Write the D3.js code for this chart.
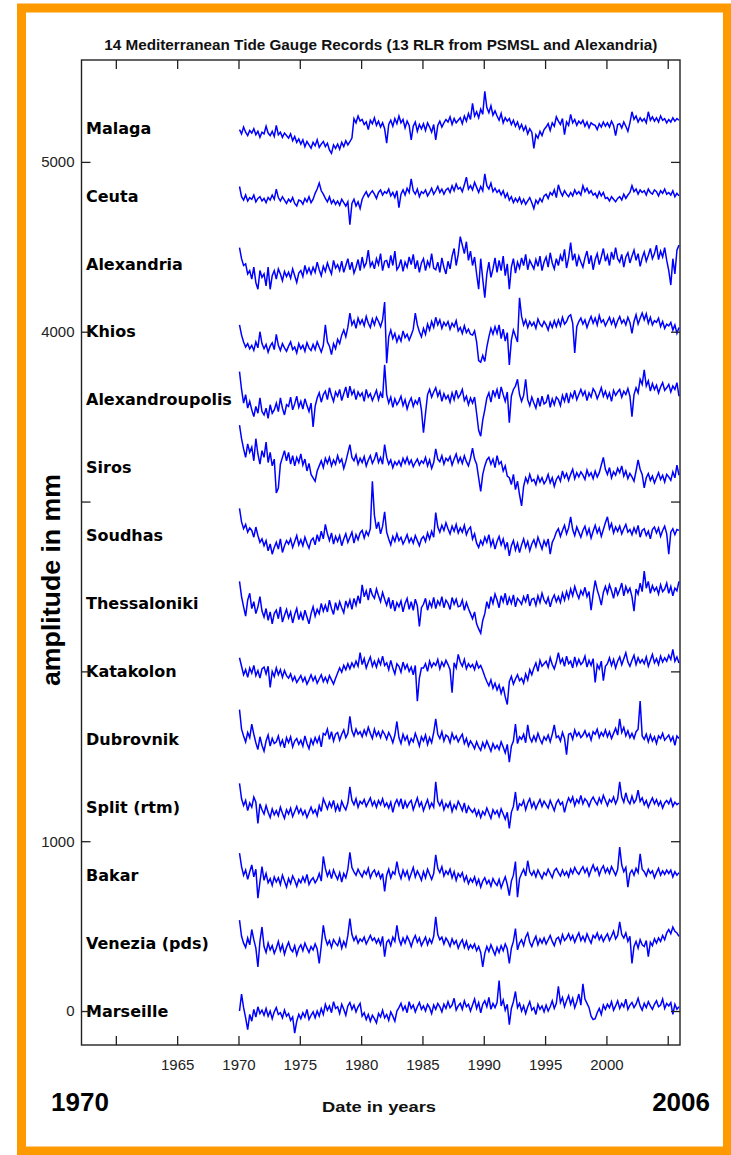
<!DOCTYPE html>
<html>
<head>
<meta charset="utf-8">
<script src="https://cdn.jsdelivr.net/npm/d3@7"></script>
<style>
  body { margin: 0; background: #fff; }
  svg { display: block; }
</style>
</head>
<body>
<svg id="chart" width="731" height="1155"></svg>
<script>
// Station names, top to bottom, and the level (mm) each record is stacked at
const stations = ["Malaga", "Ceuta", "Alexandria", "Khios", "Alexandroupolis", "Siros", "Soudhas",
  "Thessaloniki", "Katakolon", "Dubrovnik", "Split (rtm)", "Bakar", "Venezia (pds)", "Marseille"];
const stackLevels = [5200, 4800, 4400, 4000, 3600, 3200, 2800, 2400, 2000, 1600, 1200, 800, 400, 0];

// Record span and sampling (six samples per year)
const firstYear = 1970;
const samplesPerYear = 6;

// Sea-level anomalies (mm), two-monthly, 1970-2005, one row per year
const malaga = [
  -10,-35,5,-25,-45,-15, -30,-5,-40,-20,-55,-25, -35,10,-30,-45,-20,-50, 15,-40,-25,-55,-30,-45,
  -60,-35,-75,-50,-85,-65, -95,-70,-110,-80,-100,-120, -85,-105,-70,-115,-95,-80, -110,-90,-130,-150,-100,-120,
  -95,-125,-85,-110,-75,-100, -80,-60,55,30,70,40, 50,20,35,-10,45,25, 60,15,40,5,30,-5,
  -90,20,45,10,55,25, 70,30,50,0,40,15, -70,10,35,-20,20,-5, 25,-15,30,5,-25,20,
  -70,15,40,5,30,50, 35,65,20,55,30,45, 60,25,70,40,85,50, 145,70,95,60,110,80,
  215,120,90,130,75,100, 70,45,85,30,60,40, 55,20,45,10,35,-5, 20,-15,10,-35,-5,-25,
  -120,-40,-60,-20,-45,-10, 5,25,-15,30,10,65, 40,20,55,-40,35,15, 80,30,50,15,40,25,
  45,10,35,0,30,20, 15,-10,25,5,35,10, 30,5,40,15,-45,20, 25,0,35,10,-20,30,
  95,50,70,35,60,40, 55,30,95,45,65,40, 60,35,70,45,55,30, 50,35,60,40,55,45];
const ceuta = [
  55,-5,-25,5,-30,-10, -20,5,-35,-15,-5,-30, -15,-40,-10,-25,5,-20, 40,-10,-30,-5,-25,-45,
  -20,-35,-10,-45,-60,-25, -30,-50,-15,-35,-5,-40, -20,15,40,75,30,10, -15,-35,-5,-45,-25,-50,
  -30,-55,-20,-40,-60,-35, -170,-45,-20,-60,-35,-75, -20,5,25,-5,15,30, 10,-15,20,35,5,25,
  15,40,0,20,-10,30, -70,10,35,5,45,20, 100,30,10,40,-5,25, 15,35,0,20,45,10,
  30,55,20,40,10,35, 45,20,60,30,70,40, 50,25,65,110,40,60, 35,80,50,20,55,30,
  130,60,40,75,25,45, 20,35,5,30,-10,15, -25,-5,-40,-15,-35,-10, -45,-20,-50,-30,-10,-40,
  -75,-25,-45,-15,-35,0, 10,-15,20,5,35,-10, 65,25,0,30,10,-5, 20,0,35,10,25,5,
  60,25,45,15,30,5, 15,-10,25,0,20,-15, -10,-30,-5,-20,-35,-15, -5,-25,10,-15,5,20,
  60,25,40,10,35,20, 30,5,40,20,10,35, 25,0,30,15,40,10, 20,5,30,-5,15,0];
const alexandria = [
  95,30,-10,0,-60,-40, -90,-20,-110,-150,-40,-80, -60,-130,-20,-150,-70,-40, -90,-30,-60,-100,-45,-75,
  -50,-85,-30,-70,-110,-55, -40,-75,-10,-55,-25,-60, -20,-50,10,-35,-70,-15, -45,5,-30,-60,20,-25,
  -5,-40,15,-50,-10,30, -35,10,-55,-20,25,-40, 40,-20,5,80,-15,10, -30,30,-5,60,-40,15,
  20,-25,50,-10,75,-35, -15,25,-45,10,-20,40, -5,55,-30,20,-50,5, 30,-40,15,-15,60,-25,
  -35,10,-50,35,-20,-60, 15,-30,45,90,-10,55, 160,110,60,130,20,75, -10,40,-60,-150,30,-90,
  -200,-60,10,-80,-30,35, -50,20,-40,45,-70,0, -150,-20,30,-55,10,-25, 35,-10,55,-35,20,-5,
  -30,25,-15,45,-40,10, 40,-20,65,5,-30,30, -10,50,15,85,-25,35, 125,20,60,-15,45,10,
  -20,35,75,0,50,-35, 25,60,-5,40,90,15, 50,-10,70,25,95,30, 10,55,-20,40,65,5,
  45,80,20,60,-15,35, 70,15,50,90,30,60, 110,25,75,40,95,20, -40,-125,30,-60,80,110];
const khios = [
  40,-20,-60,-90,-70,-100, -80,-110,-60,-95,0,-70, -100,-75,-120,-85,-65,-105, -15,-80,-110,-70,-95,-115,
  -85,-60,-105,-90,-125,-70, -100,-80,-115,-65,-95,-110, -75,-105,-60,-90,-120,-80, 40,-60,-85,-135,-70,-100,
  -45,-70,-20,10,-30,25, 110,40,65,20,80,45, 70,35,90,50,25,75, 40,85,60,30,70,175,
  -185,-30,10,-40,-10,-60, -25,-55,5,-35,-15,-50, -20,15,110,40,0,-30, 20,-15,45,10,60,25,
  85,40,70,20,55,35, 60,15,50,30,65,5, 25,-10,35,-5,15,-15, -20,5,-60,-170,-180,-140,
  -175,-90,-30,20,-15,30, -10,40,-40,15,-55,-5, -195,-50,10,-25,-60,200, 90,40,70,25,60,35,
  55,20,75,45,30,60, 40,10,55,25,65,30, 70,35,85,45,60,90, 100,50,-125,30,60,80,
  45,70,25,60,90,50, 80,40,95,55,70,35, 60,85,45,75,30,65, 90,50,70,40,85,55,
  -10,60,100,45,80,110, 70,105,50,85,40,65, 55,80,30,60,20,45, 35,55,10,40,-10,25];
const alexandroupolis = [
  165,60,-20,30,-50,-10, -60,-100,-40,-80,10,-70, -90,-50,-110,-30,-80,-60, -20,-70,10,-50,-90,-30,
  -40,15,-60,-25,20,-45, -10,-55,5,-35,-70,-20, -160,-40,10,40,-15,30, 50,0,70,25,-10,45,
  20,60,-5,35,75,10, 80,30,55,0,45,20, 40,-10,60,15,35,-5, 25,55,0,40,10,205,
  30,-20,15,-45,5,-30, -10,20,-35,0,-55,-15, 10,-40,-5,-25,15,-60, -195,-80,30,60,15,45,
  70,20,50,-10,35,5, 25,-15,40,0,55,10, 30,60,-5,20,-30,10, -20,15,-80,-180,-215,-120,
  -60,10,40,-15,55,20, 60,5,75,30,-10,45, -135,20,60,80,120,30, -10,25,120,0,-35,15,
  -20,-50,10,-40,20,-25, -15,30,-45,5,-30,15, 0,-35,25,-10,40,-20, 35,10,55,0,30,60,
  25,50,-5,40,15,65, 45,5,35,70,20,50, 10,40,-10,55,25,45, 60,15,50,30,65,20,
  -100,30,70,40,120,90, 175,80,110,50,95,60, 85,40,75,100,55,70, 90,45,80,60,100,20];
const siros = [
  250,170,110,60,140,90, 120,40,170,80,20,100, 60,150,30,90,10,50, -150,-120,20,60,100,40,
  90,20,70,10,60,30, 80,15,50,-20,25,-40, -60,-80,-20,10,40,0, 55,25,60,10,45,20,
  70,30,50,-5,35,85, 135,60,40,75,20,55, 30,65,10,45,70,25, 50,90,30,60,20,135,
  60,20,45,0,35,15, 40,10,55,25,60,20, 45,5,30,50,15,40, 25,60,10,45,-5,30,
  110,50,35,70,20,55, 40,65,15,50,80,30, 60,25,70,35,10,55, 115,50,20,-60,-140,-40,
  10,45,60,20,50,0, 70,20,35,-20,10,-50, -60,-100,-40,-130,-80,-160, -225,-110,-60,-90,-40,-80,
  -70,-100,-50,-85,-60,-95, -75,-40,-90,-60,-110,-70, -50,-80,-20,-60,-35,-75, -40,-10,-65,-30,-55,-25,
  -45,-70,-15,-50,-30,-65, -20,-55,-30,15,60,-10, -40,0,-60,-25,-45,-5, -30,10,-50,-20,-65,-35,
  -55,-80,-20,45,-10,-40, -120,-60,-35,-75,-50,-90, -60,-30,-70,-45,-85,-40, -55,-75,-25,-60,15,-45];
const soudhas = [
  160,80,40,65,20,45, 30,-10,50,0,-40,-20, -60,-30,-90,-50,-110,-70, -40,-80,-20,-100,-60,-30,
  -50,-20,-70,-35,0,-55, -25,-60,-10,-45,-75,-30, -15,-55,5,-35,25,-20, 65,10,-30,15,-50,-5,
  -35,0,-60,-20,10,-40, -10,20,-45,5,-25,15, 30,-15,25,0,40,320, 120,40,80,10,55,140,
  20,-20,-55,-5,-35,10, -30,-10,-50,-25,5,-40, -15,-45,0,-30,-60,-20, -5,-35,15,-20,25,-10,
  135,50,20,60,30,75, 40,10,55,25,65,15, 45,20,60,5,35,50, -20,10,-45,-70,-30,-55,
  -10,-40,5,-60,-25,-80, -35,-5,-55,-20,-75,-40, -120,-60,-30,-85,-45,-100, -55,-20,-70,-35,-90,-50,
  -25,-65,-10,-45,-80,-30, -60,-20,-110,-40,-15,20, 40,-5,30,60,10,45, 110,35,0,50,20,-10,
  30,55,5,40,-15,25, 60,15,45,-5,35,75, 110,40,70,15,50,25, 55,10,40,65,20,35,
  5,45,15,60,-10,30, 40,0,25,-20,35,50, 15,45,-5,30,55,10, -110,20,40,5,35,30];
const thessaloniki = [
  130,40,-20,-75,20,60, -30,10,-60,-20,40,-45, -80,-30,-100,-50,-120,-60, -40,-90,-20,-110,-70,-35,
  -85,-50,-115,-65,-30,-95, -55,-100,-40,-80,-120,-60, -20,-75,-35,-60,0,-45, -10,-50,20,-30,-65,5,
  -40,10,-25,-55,15,-20, 20,-35,30,-10,45,0, 110,40,75,20,90,50, 30,85,45,10,65,25,
  -10,35,-30,20,-45,5, -20,15,-50,0,30,-35, 10,-40,25,-15,-135,-25, -5,30,-40,10,-20,35,
  -30,15,-10,40,-25,20, 0,-35,35,-5,25,-20, -15,20,-40,5,-30,-60, -90,-50,-120,-150,-175,-100,
  -60,10,-30,40,0,55, 20,-25,45,10,60,-10, 35,0,50,-20,30,15, -5,40,10,55,-15,25,
  30,-10,45,5,60,20, 0,35,-20,25,50,10, 40,5,60,20,70,30, 85,45,100,60,30,75,
  50,95,40,70,-40,55, 135,80,40,-10,65,100, 60,110,75,30,95,50, 80,120,45,100,65,90,
  40,-45,85,55,120,70, 190,90,130,60,105,75, 95,55,110,70,85,120, 60,100,45,90,75,130];
const katakolon = [
  80,30,-20,10,-35,20, -10,35,-25,5,-40,15, 25,-15,30,-95,0,-30, 20,-20,10,-35,5,-25,
  -40,-15,-55,-30,-65,-45, -25,-60,-35,-75,-50,-20, -55,-30,-70,-45,-20,-60, -35,-65,-25,-50,-75,-40,
  -10,20,-5,35,10,45, 15,50,25,60,30,110, 40,75,20,55,85,30, 60,25,70,40,90,35,
  50,10,65,20,-15,45, 30,-5,55,15,40,0, 25,-20,35,-175,-40,20, 20,45,0,60,25,50,
  35,70,15,55,30,65, 40,10,-125,50,20,100, 55,30,70,15,45,25, 40,10,55,20,35,5,
  -30,-60,-85,-50,-100,-70, -110,-80,-130,-90,-150,-195, -60,-30,-75,-45,-20,-55, -40,-70,-15,-50,10,-20,
  20,50,0,65,30,45, 60,25,80,40,15,55, 110,50,75,30,90,45, 60,20,85,35,70,40,
  55,90,25,65,35,75, -65,40,15,60,-55,30, 45,80,35,70,20,60, 85,40,75,110,55,30,
  65,95,40,80,50,70, 45,85,30,65,100,50, 75,40,90,55,80,60, 95,70,130,60,85,50];
const dubrovnik = [
  175,60,20,-15,40,10, 90,30,-20,-60,15,-35, -70,-10,25,-40,5,-25, -15,20,-35,-5,-50,10,
  -20,15,-45,-10,5,-30, -5,-40,20,-25,-55,0, -30,10,-20,15,-45,35, 25,60,0,45,-10,30,
  40,-5,30,55,10,35, 135,50,20,60,30,45, 15,55,25,70,35,5, 60,20,45,10,50,30,
  0,40,15,-20,25,105, 10,-25,30,-5,20,-30, 5,-15,35,0,-40,15, -10,25,-30,10,-20,40,
  120,30,5,45,-10,25, 15,-20,35,0,20,-15, 10,30,-25,5,-40,-10, -30,-55,-15,-45,-65,-20,
  -50,-10,-40,-70,-25,-55, -35,-60,-15,-45,-80,-30, -135,-40,-10,90,-25,15, 0,30,-20,85,10,-15,
  20,-10,35,0,-25,15, -5,25,-15,30,85,10, 20,-10,40,5,-90,30, 35,0,55,20,40,10,
  25,50,15,35,-5,45, 30,60,10,40,20,55, 15,45,5,35,65,25, 120,40,70,20,50,10,
  35,5,45,60,225,20, 0,30,-15,25,-10,15, -25,20,5,35,-5,10, 25,-10,15,-35,20,5];
const split = [
  140,50,10,40,-20,25, 0,60,30,-95,20,-15, -40,10,-30,-60,-10,-45, -20,-50,0,-35,-65,-15,
  -40,-5,-55,-25,5,-35, -10,-45,-20,-60,-30,0, -35,-15,-50,10,-25,50, 20,-10,30,0,40,-20,
  15,-25,35,5,-15,25, 120,40,15,50,0,35, 20,45,5,30,55,10, 35,0,40,15,50,5,
  25,-5,30,-30,20,45, 10,50,-10,35,0,25, 40,-15,20,55,5,30, -20,15,45,-5,25,0,
  150,35,10,40,-15,20, 0,30,-25,15,-10,35, 10,-20,25,-35,5,-15, -30,-10,-50,-20,-60,-25,
  -45,-5,-35,-65,-15,-40, -20,-55,-10,-40,-70,-30, -125,-30,5,90,-20,20, 10,40,-15,25,50,0,
  30,-10,20,45,5,35, 15,-5,40,10,-20,25, 45,15,30,-30,20,55, 30,60,10,45,25,70,
  20,50,35,5,40,60, 35,15,55,25,70,40, 10,45,30,60,20,50, 150,60,30,85,40,20,
  65,25,45,100,35,55, 15,40,0,30,55,20, 45,10,35,-5,25,40, 20,50,5,30,15,25];
const bakar = [
  130,50,0,30,-25,20, 60,-10,35,-135,-40,50, -30,10,-45,-20,-60,-10, -40,-15,-55,0,-35,-70,
  -20,-50,-5,-30,-65,-25, -45,-10,-40,5,-55,-30, -15,-45,-25,10,-35,110, 40,-5,25,-20,30,0,
  -25,15,-40,10,-15,35, 135,45,20,0,35,10, -10,25,5,40,-15,15, 30,-5,20,-20,10,-95,
  0,35,-15,20,5,80, 15,-20,30,-5,25,-25, 10,45,-10,25,0,-30, 20,-15,35,5,-25,10,
  120,40,15,50,-5,25, 5,35,-15,20,-30,10, -10,15,-35,-5,-50,-20, -40,-10,-55,-25,-70,-35,
  -15,-50,-30,-65,-20,-45, -60,-25,-75,-40,-10,-55, -120,-35,0,80,-130,-20, 10,35,-5,85,20,0,
  25,-10,30,5,-20,15, 0,35,10,-15,25,40, 15,-5,30,0,20,-10, 35,10,45,20,5,30,
  50,15,40,-5,30,60, 25,45,0,35,55,15, 40,10,50,25,0,35, 165,60,20,45,-70,10,
  30,0,40,15,125,35, 20,-5,35,10,25,-15, 15,40,0,25,5,30, 10,30,-10,20,0,15];
const venezia = [
  135,40,0,-25,30,-10, 80,20,-30,-140,10,95, -20,-55,0,-40,-15,-60, -30,10,-45,-10,-65,-25,
  5,-35,-50,-15,-70,-30, -10,-45,0,-30,-55,-20, -40,-5,-35,-120,-15,105, 30,-10,15,-25,20,0,
  -15,25,-30,10,-20,45, 145,50,15,40,0,25, 10,35,-5,20,45,15, 30,0,25,-10,40,-80,
  5,20,-15,35,10,105, 25,-10,30,0,40,15, -20,20,45,5,30,-15, 10,35,-10,25,0,40,
  155,50,20,35,-5,30, 10,-20,25,-5,15,-30, 0,20,-25,10,-35,-10, -30,-5,-45,-20,-55,-140,
  -60,-20,-50,-10,-40,-70, -25,-55,-15,-45,-5,-35, -120,-30,10,85,-40,0, 20,-15,35,60,5,-20,
  15,40,-10,25,0,30, -5,20,45,10,-15,25, 35,0,50,15,30,55, 20,45,5,35,60,15,
  40,10,55,25,0,45, 30,60,20,45,10,35, 55,15,40,70,25,45, 125,50,30,60,10,40,
  -120,-20,10,-30,20,-10, -20,15,-80,5,-15,25, 0,30,10,45,20,60, 80,55,95,70,60,40];
const marseille = [
  0,100,20,-40,-110,-20, -60,10,-35,25,-15,5, -25,15,-30,0,-45,-5, 20,-20,-10,-40,5,-30,
  -15,-55,-35,-130,-60,-20, -45,-10,-35,10,-50,-25, -5,-40,0,-30,15,-20, 40,5,30,-10,55,15,
  25,-15,40,10,-25,30, 50,10,35,-5,25,45, -30,-10,-50,-20,-60,-25, -45,-70,-15,-35,5,-40,
  -20,-55,-5,-30,-60,0, 20,45,5,30,-10,55, 15,35,-5,25,50,10, 30,0,40,20,-15,35,
  10,45,25,-5,40,15, 55,20,35,75,5,30, 45,10,60,25,40,0, 35,70,15,50,-10,40,
  60,25,80,10,45,20, 50,180,30,65,5,40, -80,15,55,115,20,45, 0,30,-15,25,55,5,
  20,-20,40,10,30,-5, 35,0,25,60,15,45, 145,50,80,25,60,90, 40,75,20,55,100,35,
  160,70,45,20,-30,-50, -45,-10,15,-20,35,10, 40,20,55,5,30,60, 15,45,25,70,10,35,
  50,20,40,75,30,5, 45,20,55,30,10,40, 60,25,35,70,15,45, 30,50,-20,40,10,25];

const anomalies = [malaga, ceuta, alexandria, khios, alexandroupolis, siros, soudhas,
  thessaloniki, katakolon, dubrovnik, split, bakar, venezia, marseille];

// Axis ticks and their labels
const yTickValues = [0, 1000, 2000, 3000, 4000, 5000];
const yTickLabels = ["0", "1000", "", "", "4000", "5000"];
const xTickValues = [1960, 1965, 1970, 1975, 1980, 1985, 1990, 1995, 2000, 2005];
const xTickLabels = ["", "1965", "1970", "1975", "1980", "1985", "1990", "1995", "2000", ""];

const titleText = "14 Mediterranean Tide Gauge Records (13 RLR from PSMSL and Alexandria)";
const xAxisTitle = "Date in years";
const yAxisTitle = "amplitude in mm";
const spanStart = "1970";
const spanEnd = "2006";

// ---- layout ----
const svg = d3.select("#chart");
const plot = { left: 81.5, right: 680, top: 60, bottom: 1045 };

const x = d3.scaleLinear().domain([1957.2, 2006]).range([plot.left, plot.right]);
const y = d3.scaleLinear().domain([-200, 5600]).range([plot.bottom, plot.top]);

// orange frame
svg.append("rect")
  .attr("x", 21.5).attr("y", 8)
  .attr("width", 706).attr("height", 1143)
  .attr("fill", "#fff")
  .attr("stroke", "#ff9900").attr("stroke-width", 9);

// title
svg.append("text")
  .attr("x", (plot.left + plot.right) / 2).attr("y", 50)
  .attr("text-anchor", "middle")
  .attr("font-family", "'Liberation Sans', Arial, sans-serif")
  .attr("font-weight", "bold").attr("font-size", 14)
  .attr("textLength", 553).attr("lengthAdjust", "spacingAndGlyphs")
  .attr("fill", "#111")
  .text(titleText);

svg.append("defs").append("clipPath").attr("id", "plotClip")
  .append("rect")
  .attr("x", plot.left).attr("y", plot.top)
  .attr("width", plot.right - plot.left).attr("height", plot.bottom - plot.top);

// the tide gauge records
const line = d3.line()
  .x(d => x(d.t))
  .y(d => y(d.v));

const records = anomalies.map((vals, k) => vals.map((a, i) => ({
  t: firstYear + (i + 0.5) / samplesPerYear,
  v: stackLevels[k] + a
})));

svg.append("g").attr("clip-path", "url(#plotClip)")
  .selectAll("path")
  .data(records)
  .join("path")
  .attr("d", line)
  .attr("fill", "none")
  .attr("stroke", "#0000ff")
  .attr("stroke-width", 1.5)
  .attr("stroke-linejoin", "miter");

// station names
svg.append("g")
  .selectAll("text")
  .data(stations)
  .join("text")
  .attr("x", plot.left + 4.5)
  .attr("y", (d, k) => y(stackLevels[k]))
  .attr("dy", "0.36em")
  .attr("font-family", "'DejaVu Sans', sans-serif")
  .attr("font-weight", "bold").attr("font-size", 16)
  .attr("fill", "#000")
  .text(d => d);

// axes with inward ticks on all four sides
const axisColor = "#222";
function styleAxis(g) {
  g.select(".domain").remove();
  g.selectAll(".tick line").attr("stroke", axisColor).attr("stroke-width", 1.3);
  g.selectAll(".tick text")
    .attr("fill", "#222")
    .attr("font-family", "'Liberation Sans', Arial, sans-serif")
    .attr("font-size", 15);
}

svg.append("g").attr("transform", `translate(${plot.left},0)`)
  .call(d3.axisLeft(y).tickValues(yTickValues).tickSize(-9).tickPadding(7)
    .tickFormat((d, i) => yTickLabels[i]))
  .call(styleAxis);
svg.append("g").attr("transform", `translate(${plot.right},0)`)
  .call(d3.axisRight(y).tickValues(yTickValues).tickSize(-9).tickFormat(() => ""))
  .call(styleAxis);
svg.append("g").attr("transform", `translate(0,${plot.bottom})`)
  .call(d3.axisBottom(x).tickValues(xTickValues).tickSize(-9).tickPadding(14)
    .tickFormat((d, i) => xTickLabels[i]))
  .call(styleAxis);
svg.append("g").attr("transform", `translate(0,${plot.top})`)
  .call(d3.axisTop(x).tickValues(xTickValues).tickSize(-9).tickFormat(() => ""))
  .call(styleAxis);

// plot box
svg.append("rect")
  .attr("x", plot.left).attr("y", plot.top)
  .attr("width", plot.right - plot.left).attr("height", plot.bottom - plot.top)
  .attr("fill", "none").attr("stroke", axisColor).attr("stroke-width", 1.4);

// axis titles and span annotations
svg.append("text")
  .attr("x", 379).attr("y", 1112)
  .attr("text-anchor", "middle")
  .attr("font-family", "'Liberation Sans', Arial, sans-serif")
  .attr("font-weight", "bold").attr("font-size", 15)
  .attr("textLength", 114).attr("lengthAdjust", "spacingAndGlyphs")
  .attr("fill", "#111")
  .text(xAxisTitle);

svg.append("text")
  .attr("transform", "translate(60,580) rotate(-90)")
  .attr("text-anchor", "middle")
  .attr("font-family", "'Liberation Sans', Arial, sans-serif")
  .attr("font-weight", "bold").attr("font-size", 26)
  .attr("textLength", 212).attr("lengthAdjust", "spacingAndGlyphs")
  .attr("fill", "#000")
  .text(yAxisTitle);

svg.append("text")
  .attr("x", 51).attr("y", 1111)
  .attr("font-family", "'Liberation Sans', Arial, sans-serif")
  .attr("font-weight", "bold").attr("font-size", 26)
  .attr("fill", "#000")
  .text(spanStart);

svg.append("text")
  .attr("x", 710).attr("y", 1111)
  .attr("text-anchor", "end")
  .attr("font-family", "'Liberation Sans', Arial, sans-serif")
  .attr("font-weight", "bold").attr("font-size", 26)
  .attr("fill", "#000")
  .text(spanEnd);
</script>
</body>
</html>
